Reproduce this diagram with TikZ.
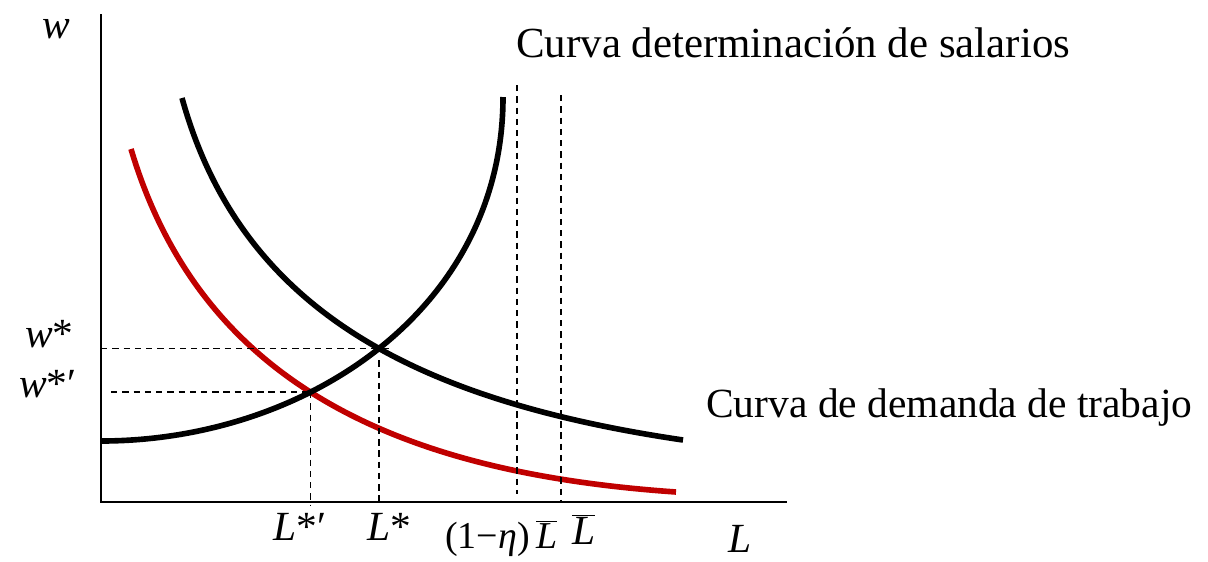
\documentclass[tikz,border=0pt]{standalone}
\usepackage{fontspec}
\setmainfont{Liberation Serif}
\usetikzlibrary{calc,intersections}
\definecolor{demred}{RGB}{192,0,0}
\newcommand{\Lbar}{$\overline{\hbox{\itshape L}}$}

\begin{document}
\begin{tikzpicture}[x=0.025cm,y=-0.025cm,
  font=\fontsize{29.5}{34}\selectfont,
  curve/.style={line width=4pt},
  guide/.style={line width=1.1pt,dash pattern=on 4.5pt off 3.5pt},
  lab/.style={inner sep=0pt,anchor=base west}]
\useasboundingbox (0,0) rectangle (1208,561);
\coordinate (O) at (101,502);
% curves
\draw[curve,demred,name path=reddem] (131,149) .. controls (202.3,388.8) and (406.8,473.4) .. (676,492);
\draw[curve,name path=dem] (182,98) .. controls (240.7,310.1) and (416,400.6) .. (683,440);
\draw[curve,name path=wage] (101,441) .. controls (305,441) and (503,310) .. (503,97);
\path[name intersections={of=wage and dem,by=E}];
\path[name intersections={of=wage and reddem,by=Ep}];
% guides
\draw[guide] (E -| O) -- ($(E)+(12,0)$);
\draw[guide] ($(Ep -| O)+(10,0)$) -- (Ep);
\draw[guide] ($(E)+(0,12)$) -- (E |- O);
\draw[guide] (Ep) -- ($(Ep |- O)+(0,3)$);
\draw[guide] (517,85) -- (517,494);
\draw[guide] (561,95) -- (561,502);
% axes
\draw[line width=1.4pt] (101,14) -- (O) -- (787,502);
% labels
\node[lab] (wlab) at (42,38) {\itshape w};
\node[lab,anchor=base east] (wstar) at (74,347) {\textit{w}*};
\node[lab,anchor=base east] (wstarp) at (77,397) {\textit{w}*′};
\node[lab] (Lstarp) at (273,540) {\textit{L}*′};
\node[lab] (Lstar) at (367,540) {\textit{L}*};
\node[lab,font=\fontsize{27}{32}\selectfont] (Leta) at (445,548) {(1−\textit{η})\,\Lbar};
\node[lab] (Lfull) at (572,544) {\Lbar};
\node[lab] (Llab) at (728,552) {\itshape L};
\node[lab,font=\fontsize{30.5}{35}\selectfont] (wsc) at (516,57) {Curva determinación de salarios};
\node[lab] (ldc) at (706,417) {Curva de demanda de trabajo};
\end{tikzpicture}
\end{document}
